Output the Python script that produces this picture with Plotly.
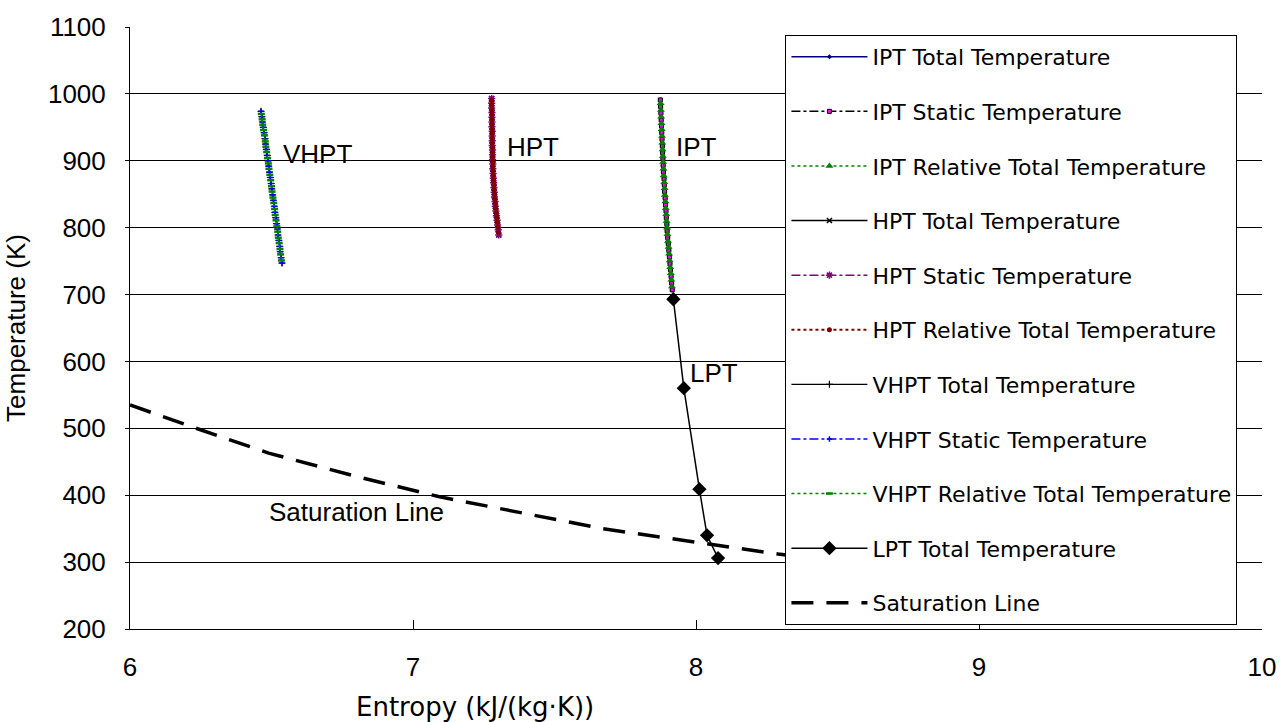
import plotly.graph_objects as go

# ---------------- data ----------------
VHPT_s = [6.463, 6.466, 6.468, 6.471, 6.474, 6.477, 6.479, 6.482, 6.485, 6.488, 6.490, 6.493, 6.496, 6.499,
          6.501, 6.504, 6.507, 6.510, 6.512, 6.515, 6.518, 6.521, 6.523, 6.526, 6.529, 6.531, 6.534, 6.537]
VHPT_T = [974, 966, 958, 950, 942, 933, 925, 917, 908, 900, 892, 883, 875, 866,
          858, 849, 841, 832, 823, 815, 806, 798, 789, 781, 772, 764, 755, 747]
VHPT_s_rel = [6.464, 6.467, 6.469, 6.472, 6.475, 6.478, 6.480, 6.483, 6.486, 6.489, 6.491, 6.494, 6.497, 6.500,
              6.502, 6.505, 6.508, 6.511, 6.513, 6.516, 6.519, 6.522, 6.524, 6.527, 6.530, 6.532, 6.535]
VHPT_T_rel = [970, 962, 954, 946, 938, 929, 921, 913, 904, 896, 888, 879, 871, 862,
              854, 845, 837, 828, 819, 811, 802, 794, 785, 777, 768, 760, 751]

HPT_s = [7.278, 7.278, 7.278, 7.279, 7.279, 7.279, 7.279, 7.280, 7.280, 7.280, 7.280, 7.281, 7.281, 7.281, 7.282,
         7.282, 7.283, 7.284, 7.285, 7.286, 7.287, 7.288, 7.290, 7.291, 7.293, 7.295, 7.297, 7.299, 7.301, 7.303]
HPT_T = [993, 986, 979, 972, 965, 958, 951, 944, 937, 930, 923, 916, 909, 902, 895,
         888, 881, 874, 867, 860, 853, 846, 839, 832, 825, 818, 811, 804, 797, 789]
HPT_s_rel = [7.278, 7.278, 7.279, 7.279, 7.279, 7.279, 7.280, 7.280, 7.280, 7.280, 7.281, 7.281, 7.281, 7.282, 7.282,
             7.283, 7.284, 7.285, 7.286, 7.287, 7.288, 7.289, 7.291, 7.292, 7.294, 7.296, 7.298, 7.300, 7.302]
HPT_T_rel = [990, 983, 976, 969, 962, 955, 948, 941, 934, 927, 920, 913, 906, 899, 892,
             885, 878, 871, 864, 857, 850, 843, 836, 829, 822, 815, 808, 801, 793]

IPT_s = [7.874, 7.875, 7.876, 7.877, 7.878, 7.879, 7.880, 7.881, 7.882, 7.883, 7.884, 7.885, 7.887, 7.888, 7.889,
         7.891, 7.892, 7.894, 7.895, 7.897, 7.898, 7.900, 7.902, 7.904, 7.906, 7.908, 7.910, 7.912, 7.914, 7.916]
IPT_T = [991, 981, 971, 961, 952, 942, 932, 922, 912, 903, 893, 883, 873, 864, 854,
         844, 834, 825, 815, 805, 795, 785, 776, 766, 756, 746, 737, 727, 717, 707]
IPT_s_rel = [7.875, 7.876, 7.877, 7.878, 7.879, 7.880, 7.881, 7.882, 7.883, 7.884, 7.885, 7.886, 7.888, 7.889, 7.890,
             7.892, 7.893, 7.895, 7.896, 7.898, 7.899, 7.901, 7.903, 7.905, 7.907, 7.909, 7.911, 7.913, 7.915]
IPT_T_rel = [986, 976, 966, 956, 947, 937, 927, 917, 907, 898, 888, 878, 868, 859, 849,
             839, 829, 820, 810, 800, 790, 780, 771, 761, 751, 741, 732, 722, 712]

LPT_s = [7.920, 7.957, 8.012, 8.039, 8.078]
LPT_T = [693, 560, 409, 340, 306]

SAT_s = [6.00, 6.22, 6.49, 6.80, 7.09, 7.40, 7.67, 8.03, 8.29, 8.60]
SAT_T = [535, 502, 463, 428, 398, 372, 350, 328, 312, 297]

X_TICKS = [6, 7, 8, 9, 10]
Y_TICKS = [200, 300, 400, 500, 600, 700, 800, 900, 1000, 1100]

LABELS = ["VHPT", "HPT", "IPT", "LPT", "Saturation Line"]
LABEL_S = [6.533, 7.326, 7.923, 7.972, 6.484]
LABEL_T = [910, 920, 920, 582, 375]

# ---------------- figure ----------------
fig = go.Figure()


def add(name, s, t, color, dash, width, symbol, msize, mcolor, mline_color=None, mline_width=0):
    fig.add_trace(go.Scatter(
        x=s, y=t, name=name, mode="lines+markers" if symbol else "lines",
        legendgroup=name,
        line=dict(color=color, dash=dash, width=width),
        marker=dict(symbol=symbol or "circle", size=msize, color=mcolor,
                    line=dict(color=mline_color or mcolor, width=mline_width)),
    ))


add("IPT Total Temperature", IPT_s, IPT_T, "#000080", "solid", 1.5, "diamond", 4, "#000080")
add("IPT Static Temperature", IPT_s, IPT_T, "#000000", "dashdot", 1.5, "square", 4, "#FF00FF", "#000000", 1)
add("IPT Relative Total Temperature", IPT_s_rel, IPT_T_rel, "#008000", "dot", 1.5, "triangle-up", 7, "#008000")
add("HPT Total Temperature", HPT_s, HPT_T, "#000000", "solid", 1.5, "x-thin", 5, "#000000", "#000000", 1.5)
add("HPT Static Temperature", HPT_s, HPT_T, "#800080", "dashdot", 1.5, "asterisk-open", 6, "#800080", "#800080", 1.5)
add("HPT Relative Total Temperature", HPT_s_rel, HPT_T_rel, "#800000", "dot", 2, "circle", 5, "#800000")
add("VHPT Total Temperature", VHPT_s, VHPT_T, "#000000", "solid", 1.2, "cross-thin", 5, "#000000", "#000000", 1.2)
add("VHPT Static Temperature", VHPT_s, VHPT_T, "#0000FF", "dashdot", 1.5, "cross-thin", 4, "#0000FF", "#0000FF", 1.5)
add("VHPT Relative Total Temperature", VHPT_s_rel, VHPT_T_rel, "#008000", "dot", 1.5, "line-ew", 5, "#008000", "#008000", 2.5)
add("LPT Total Temperature", LPT_s, LPT_T, "#000000", "solid", 1.5, "diamond", 11, "#000000")
add("Saturation Line", SAT_s, SAT_T, "#000000", "22px,13px", 3.5, None, 0, "#000000")

for txt, s, t in zip(LABELS, LABEL_S, LABEL_T):
    fig.add_annotation(x=s, y=t, text=txt, showarrow=False, xanchor="left", yanchor="middle",
                       font=dict(family="Liberation Sans, Arial", size=26, color="#000000"))

# x-axis title (placed off-centre as in the reference)
fig.add_annotation(xref="paper", yref="paper", x=0.305, y=-0.129, text="Entropy (kJ/(kg·K))",
                   showarrow=False, xanchor="center", yanchor="middle",
                   font=dict(family="DejaVu Sans", size=26, color="#000000"))

fig.update_layout(
    width=1288, height=722,
    margin=dict(l=130, r=18, t=24, b=93),
    paper_bgcolor="#FFFFFF", plot_bgcolor="#FFFFFF",
    showlegend=True,
    legend=dict(x=0.579, y=0.9868, xanchor="left", yanchor="top",
                bgcolor="#FFFFFF", bordercolor="#000000", borderwidth=1,
                font=dict(family="DejaVu Sans", size=22, color="#000000"),
                tracegroupgap=23, itemwidth=76, traceorder="grouped",
                entrywidth=476, entrywidthmode="pixels"),
    xaxis=dict(range=[6, 10], tickvals=X_TICKS, ticktext=[str(v) for v in X_TICKS],
               showgrid=False, zeroline=False, showline=True, linecolor="#000000", linewidth=1,
               ticks="inside", ticklen=9, tickcolor="#000000",
               ticklabelstandoff=15,
               tickfont=dict(family="Liberation Sans, Arial", size=26, color="#000000")),
    yaxis=dict(range=[200, 1100], tickvals=Y_TICKS, ticktext=[str(v) for v in Y_TICKS],
               showgrid=True, gridcolor="#000000", gridwidth=1, zeroline=False,
               showline=True, linecolor="#000000", linewidth=1,
               ticks="outside", ticklen=4, tickcolor="#000000",
               ticklabelstandoff=14,
               tickfont=dict(family="Liberation Sans, Arial", size=26, color="#000000"),
               title=dict(text="Temperature (K)", standoff=14,
                          font=dict(family="Liberation Sans, Arial", size=26, color="#000000"))),
)

fig.write_html("out.html")
